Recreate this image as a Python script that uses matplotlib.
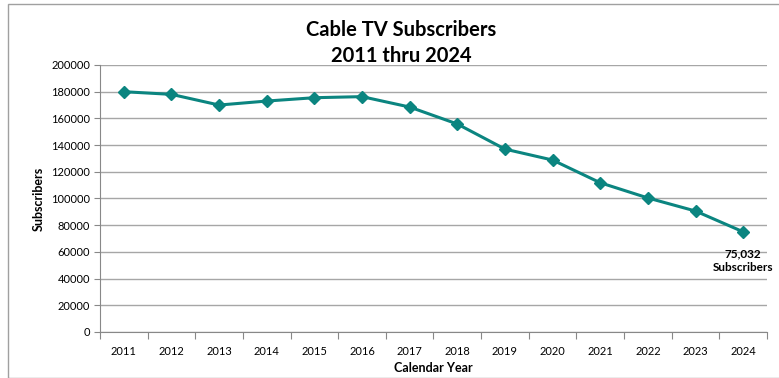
import matplotlib
matplotlib.use("Agg")
import matplotlib.pyplot as plt
from matplotlib.patches import Rectangle
import numpy as np

years = [2011, 2012, 2013, 2014, 2015, 2016, 2017,
         2018, 2019, 2020, 2021, 2022, 2023, 2024]
subscribers = [180000, 178000, 170000, 173000, 175500, 176300, 168500,
               155800, 137000, 128800, 111800, 100400, 90600, 75032]
y_ticks = [0, 20000, 40000, 60000, 80000, 100000, 120000,
           140000, 160000, 180000, 200000]

plt.rcParams['font.family'] = ['Lato', 'DejaVu Sans']

fig = plt.figure(figsize=(7.79, 3.78), dpi=100)
ax = fig.add_axes([100 / 779, 1 - 332 / 378, 667 / 779, 267 / 378])

x = np.arange(len(years))
teal = '#0b8580'
ax.plot(x, subscribers, color=teal, lw=2.2, marker='D', ms=6,
        mec=teal, mfc=teal, zorder=3)

ax.set_xlim(-0.5, len(years) - 0.5)
ax.set_ylim(0, 200000)
ax.set_yticks(y_ticks)
ax.set_yticklabels([str(v) for v in y_ticks], fontsize=8)
ax.yaxis.grid(True, color='#a6a6a6', lw=1)
ax.set_axisbelow(True)

# category ticks sit between the years, labels at the centres
ax.set_xticks(np.arange(-0.5, len(years)), labels=[''] * (len(years) + 1))
ax.set_xticks(x, labels=[str(y) for y in years], minor=True, fontsize=8)
ax.tick_params(axis='x', which='major', length=5, color='#888888')
ax.tick_params(axis='x', which='minor', length=0, pad=10)
ax.tick_params(axis='y', length=4, color='#888888', pad=3)

for side in ['top', 'right']:
    ax.spines[side].set_visible(False)
for side in ['left', 'bottom']:
    ax.spines[side].set_color('#888888')

ax.set_ylabel('Subscribers', fontsize=9, fontweight='bold', labelpad=5)
ax.set_xlabel('Calendar Year', fontsize=9, fontweight='bold', labelpad=4)

ax.annotate(f"{subscribers[-1]:,}\nSubscribers", (x[-1], subscribers[-1]),
            xytext=(0, -12), textcoords='offset points', ha='center', va='top',
            fontsize=8.5, fontweight='bold', linespacing=1.3)

fig.text(0.515, 1 - 30 / 378, 'Cable TV Subscribers', ha='center', va='center',
         fontsize=14.5, fontweight='bold')
fig.text(0.515, 1 - 56 / 378, '2011 thru 2024', ha='center', va='center',
         fontsize=14.5, fontweight='bold')

fig.patches.append(Rectangle((8 / 779, 0), 1, 1 - 4 / 378, transform=fig.transFigure,
                             fill=False, ec='#a0a0a0', lw=1))

fig.savefig('out.png', dpi=100)
